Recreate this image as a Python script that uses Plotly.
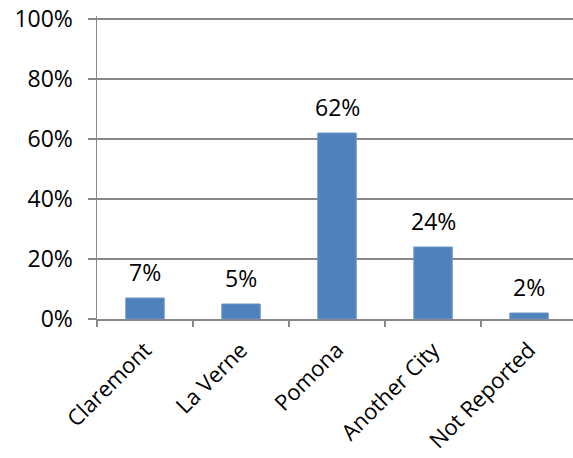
import plotly.graph_objects as go

categories = ["Claremont", "La Verne", "Pomona", "Another City", "Not Reported"]
values = [0.07, 0.05, 0.62, 0.24, 0.02]
labels = ["7%", "5%", "62%", "24%", "2%"]
y_ticks = [0, 0.2, 0.4, 0.6, 0.8, 1.0]
y_tick_text = ["0%", "20%", "40%", "60%", "80%", "100%"]

FONT = "Open Sans"
FS = 23

fig = go.Figure()
fig.add_trace(go.Bar(
    x=categories, y=values, width=0.4,
    marker=dict(color="#4F81BD", line=dict(color="#6A95CC", width=1)),
    hoverinfo="skip",
))

for c, v, t in zip(categories, values, labels):
    fig.add_annotation(x=c, y=v, text=t, showarrow=False, yanchor="middle",
                       yshift=26, font=dict(family=FONT, size=FS, color="#000"))

fig.update_layout(
    width=573, height=458,
    margin=dict(l=97, r=0, t=16, b=139),
    paper_bgcolor="white", plot_bgcolor="white",
    showlegend=False,
    font=dict(family=FONT, size=FS, color="#000"),
    bargap=0.6,
)
fig.update_xaxes(
    type="category", range=[-0.5, 4.458],
    showline=True, linecolor="#888888", linewidth=1.5,
    ticks="outside", tickson="boundaries", ticklen=6, tickcolor="#888888", tickwidth=1.5,
    tickangle=-45, showgrid=False, tickfont=dict(family=FONT, size=22),
    ticklabeloverflow="allow", ticklabelstandoff=8, automargin=False,
)
fig.update_yaxes(
    range=[0, 1.01], tickvals=y_ticks, ticktext=y_tick_text,
    showgrid=True, gridcolor="#888888", gridwidth=1.5,
    showline=True, linecolor="#888888", linewidth=1.5,
    ticks="outside", ticklen=8, tickcolor="#888888", tickwidth=1.5,
    ticklabelstandoff=10, ticklabeloverflow="allow", automargin=False,
    zeroline=False, tickfont=dict(family=FONT, size=FS),
)

fig.write_html(
    "out.html",
    config={"displayModeBar": False, "staticPlot": True},
    post_script="document.body.style.margin='0';document.body.style.overflow='hidden';",
)
